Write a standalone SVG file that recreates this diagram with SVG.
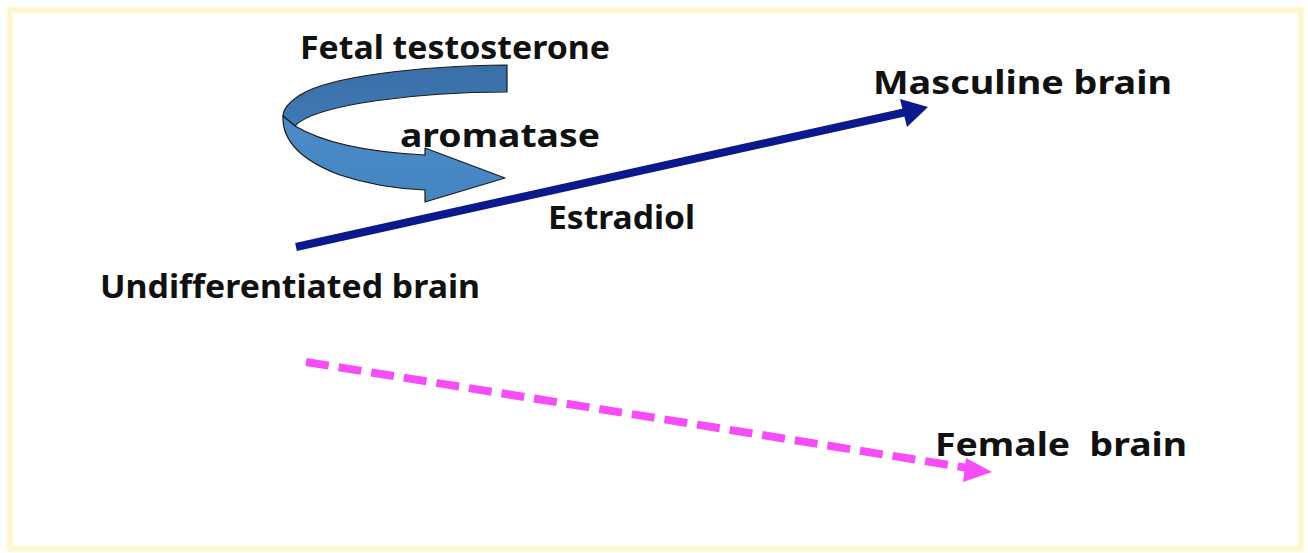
<svg xmlns="http://www.w3.org/2000/svg" width="1308" height="553" viewBox="0 0 1308 553">
<style>
.t{font-family:"Noto Sans","Liberation Sans",sans-serif;font-weight:bold;font-size:33px;fill:#111}
</style>
<defs>
<linearGradient id="g1" x1="0" y1="0" x2="0" y2="1">
<stop offset="0" stop-color="#3a6ea6"/><stop offset="1" stop-color="#3f7ab6"/>
</linearGradient>
<linearGradient id="g2" x1="0" y1="0" x2="0" y2="1">
<stop offset="0" stop-color="#4a8bc8"/><stop offset="1" stop-color="#4585c2"/>
</linearGradient>
</defs>
<rect x="0" y="0" width="1308" height="553" fill="#fff"/>
<rect x="10" y="10" width="1291" height="539" fill="#fff" stroke="#fdf8c6" stroke-width="5"/>
<g id="cycle-arrow" stroke="#1a1a1a" stroke-width="1.2" stroke-linejoin="round">
<path d="M507,65 C420,66 330,76 300,95 C288,103 283,110 283,116 L295,126 C315,104 420,92 507,92 Z" fill="url(#g1)"/>
<path d="M283,116 C282,140 300,160 340,175 C370,185 400,189 425,190 L425,202 L505,178 L425,148 L425,155 C385,153 330,147 295,126 Z" fill="url(#g2)"/>
</g>
<g id="connectors">
<line x1="296" y1="247" x2="904" y2="112.5" stroke="#0a1a8c" stroke-width="8"/>
<polygon points="928,107 900,99 907,127" fill="#0a1a8c"/>
<line x1="306" y1="362" x2="968" y2="468" stroke="#f84cf8" stroke-width="8" stroke-dasharray="23,10"/>
<polygon points="992,472 966,458 963,482" fill="#f84cf8"/>
</g>
<g id="fetal-testosterone"><text class="t" x="300" y="59" textLength="310" lengthAdjust="spacingAndGlyphs">Fetal testosterone</text></g>
<g id="aromatase"><text class="t" x="400" y="147" textLength="200" lengthAdjust="spacingAndGlyphs">aromatase</text></g>
<g id="masculine-brain"><text class="t" x="873" y="94" textLength="299" lengthAdjust="spacingAndGlyphs">Masculine brain</text></g>
<g id="estradiol"><text class="t" x="548" y="229" textLength="147" lengthAdjust="spacingAndGlyphs">Estradiol</text></g>
<g id="undifferentiated-brain"><text class="t" x="100" y="298" textLength="380" lengthAdjust="spacingAndGlyphs">Undifferentiated brain</text></g>
<g id="female-brain"><text class="t" x="935" y="456" textLength="252" lengthAdjust="spacingAndGlyphs" xml:space="preserve">Female  brain</text></g>
</svg>
